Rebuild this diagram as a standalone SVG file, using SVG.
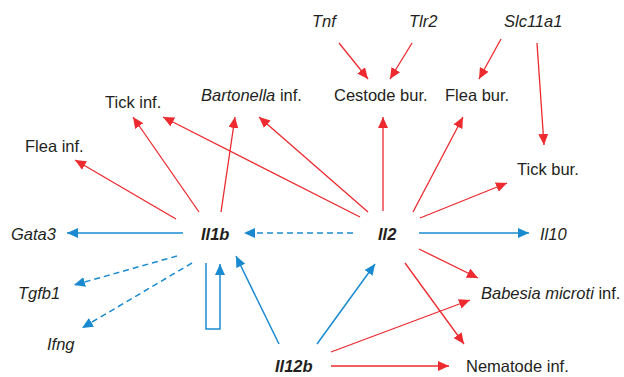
<svg xmlns="http://www.w3.org/2000/svg" width="624" height="377" viewBox="0 0 624 377">
<style>
text{font-family:"Liberation Sans",Arial,sans-serif;font-size:16.5px;fill:#231f20}
.i{font-style:italic}
.b{font-style:italic;font-weight:bold}
.r{stroke:#ec2a2f;stroke-width:1.3;fill:none;marker-end:url(#ar)}
.bl{stroke:#1a8ad0;stroke-width:1.5;fill:none;marker-end:url(#ab)}
.d{stroke-dasharray:6 4}
</style>
<defs>
<marker id="ar" markerUnits="userSpaceOnUse" markerWidth="12" markerHeight="10" viewBox="0 0 12 10" refX="11" refY="5" orient="auto"><path d="M0,0 L11,5 L0,10 Z" fill="#ec2a2f"/></marker>
<marker id="ab" markerUnits="userSpaceOnUse" markerWidth="12" markerHeight="10" viewBox="0 0 12 10" refX="11" refY="5" orient="auto"><path d="M0,0 L11,5 L0,10 Z" fill="#1a8ad0"/></marker>
</defs>
<rect width="624" height="377" fill="#fff"/>
<g id="connectors">
<line class="r" x1="339" y1="43" x2="368" y2="79"/>
<line class="r" x1="412" y1="43" x2="390" y2="79"/>
<line class="r" x1="501" y1="39" x2="479" y2="79"/>
<line class="r" x1="537" y1="43" x2="544" y2="145"/>
<line class="r" x1="176" y1="219" x2="75" y2="160"/>
<line class="r" x1="199" y1="212" x2="133" y2="117"/>
<line class="r" x1="221" y1="212" x2="235" y2="117"/>
<line class="r" x1="360" y1="217" x2="163" y2="117"/>
<line class="r" x1="368" y1="212" x2="259" y2="117"/>
<line class="r" x1="383" y1="211" x2="383" y2="117"/>
<line class="r" x1="413" y1="212" x2="463" y2="117"/>
<line class="r" x1="420" y1="218" x2="507" y2="183"/>
<line class="r" x1="419" y1="249" x2="478" y2="278"/>
<line class="r" x1="405" y1="263" x2="464" y2="344"/>
<line class="r" x1="331" y1="352" x2="470" y2="300"/>
<line class="r" x1="331" y1="366" x2="449" y2="366"/>
<line class="bl" x1="183" y1="233" x2="67" y2="233"/>
<line class="bl d" x1="353" y1="233" x2="244" y2="233"/>
<line class="bl d" x1="177" y1="256" x2="74" y2="285"/>
<line class="bl d" x1="192" y1="263" x2="82" y2="328"/>
<path class="bl" d="M206,263 V329 H220 V264"/>
<line class="bl" x1="279" y1="344" x2="236" y2="256"/>
<line class="bl" x1="317" y1="344" x2="375" y2="264"/>
<line class="bl" x1="419" y1="233" x2="529" y2="233"/>
</g>
<g id="Tnf"><text class="i" x="312" y="27">Tnf</text></g>
<g id="Tlr2"><text class="i" x="409" y="27">Tlr2</text></g>
<g id="Slc11a1"><text class="i" x="504" y="27">Slc11a1</text></g>
<g id="CestodeBur"><text x="334" y="101">Cestode bur.</text></g>
<g id="FleaBur"><text x="445" y="101">Flea bur.</text></g>
<g id="TickBur"><text x="517" y="175">Tick bur.</text></g>
<g id="TickInf"><text x="105" y="108">Tick inf.</text></g>
<g id="BartonellaInf"><text x="201" y="101"><tspan class="i">Bartonella</tspan> inf.</text></g>
<g id="FleaInf"><text x="25" y="152">Flea inf.</text></g>
<g id="Gata3"><text class="i" x="11" y="240">Gata3</text></g>
<g id="Il1b"><text class="b" x="201" y="240">Il1b</text></g>
<g id="Il2"><text class="b" x="378" y="240">Il2</text></g>
<g id="Il10"><text class="i" x="540" y="240">Il10</text></g>
<g id="Tgfb1"><text class="i" x="18" y="299">Tgfb1</text></g>
<g id="Ifng"><text class="i" x="47" y="350">Ifng</text></g>
<g id="BabesiaInf"><text x="481" y="299"><tspan class="i">Babesia microti</tspan> inf.</text></g>
<g id="Il12b"><text class="b" x="275" y="372">Il12b</text></g>
<g id="NematodeInf"><text x="466" y="372">Nematode inf.</text></g>
</svg>
